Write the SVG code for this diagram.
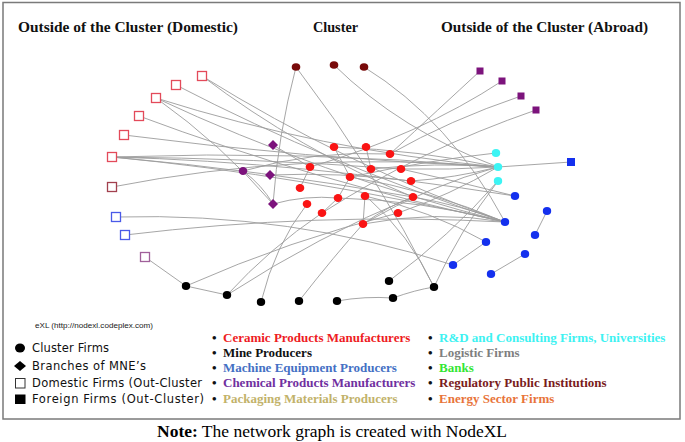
<svg xmlns="http://www.w3.org/2000/svg" width="685" height="442" viewBox="0 0 685 442">
<style>
.e{fill:none;stroke:#9c9c9c;stroke-width:0.9}
.sq{fill:#fff;stroke-width:1.3}
.red{fill:#fa1414}
.dred{fill:#780a0a}
.pur{fill:#7c137c}
.cy{fill:#3cf4f4}
.bl{fill:#1430ee}
.blk{fill:#000}
.h{font-family:"Liberation Serif",serif;font-weight:bold;font-size:15.5px;fill:#111}
.lg{font-family:"DejaVu Sans",sans-serif;font-size:11.5px;fill:#111}
.li{font-family:"Liberation Serif",serif;font-weight:bold;font-size:13px}
.bu{font-family:"Liberation Serif",serif;font-weight:bold;font-size:13px;fill:#111}
</style>
<rect x="0" y="0" width="685" height="442" fill="#fff"/>
<rect x="3" y="2.5" width="677" height="416.5" fill="none" stroke="#7a7a7a" stroke-width="1.5"/>
<g id="headings">
<text class="h" x="18" y="32" textLength="220" lengthAdjust="spacingAndGlyphs">Outside of the Cluster (Domestic)</text>
<text class="h" x="313" y="32" textLength="45" lengthAdjust="spacingAndGlyphs">Cluster</text>
<text class="h" x="441" y="32" textLength="207" lengthAdjust="spacingAndGlyphs">Outside of the Cluster (Abroad)</text>
</g>
<g id="connectors">
<path class="e" d="M202,76 Q345,165 505,222"/>
<path class="e" d="M202,76 Q300,150 413,197"/>
<path class="e" d="M176,85 Q330,165 505,222"/>
<path class="e" d="M156,98 Q320,150 498,167"/>
<path class="e" d="M156,98 Q320,175 505,222"/>
<path class="e" d="M156,98 Q222,145 273,204"/>
<path class="e" d="M139,116 Q310,180 505,222"/>
<path class="e" d="M124,135 Q300,158 498,167"/>
<path class="e" d="M112,157 Q300,150 498,167"/>
<path class="e" d="M112,157 Q300,175 505,222"/>
<path class="e" d="M112,157 Q260,170 413,197"/>
<path class="e" d="M112,157 Q300,162 515,196"/>
<path class="e" d="M112,157 Q250,158 401,169"/>
<path class="e" d="M112,187 Q300,150 498,167"/>
<path class="e" d="M116,217 Q290,212 453,265"/>
<path class="e" d="M125,235 Q315,212 505,222"/>
<path class="e" d="M145,257 L186,286"/>
<path class="e" d="M186,286 L227,295"/>
<path class="e" d="M186,286 Q290,240 398,213"/>
<path class="e" d="M227,295 Q320,235 413,197"/>
<path class="e" d="M227,295 Q270,248 322,213"/>
<path class="e" d="M261,302 Q275,245 307,204"/>
<path class="e" d="M299,301 Q335,255 363,224"/>
<path class="e" d="M337,301 Q365,296 393,298"/>
<path class="e" d="M393,298 Q415,290 434,287"/>
<path class="e" d="M389,281 Q450,236 498,181"/>
<path class="e" d="M434,287 Q460,230 498,181"/>
<path class="e" d="M434,287 Q410,235 366,196"/>
<path class="e" d="M296,67 Q375,170 434,287"/>
<path class="e" d="M334,147 L350,177"/>
<path class="e" d="M366,147 L371,169"/>
<path class="e" d="M310,167 L300,188"/>
<path class="e" d="M350,177 L338,198"/>
<path class="e" d="M322,213 L338,198"/>
<path class="e" d="M365,196 L363,224"/>
<path class="e" d="M363,224 Q390,205 413,197"/>
<path class="e" d="M363,224 Q435,210 505,222"/>
<path class="e" d="M363,224 Q430,185 498,167"/>
<path class="e" d="M310,167 Q420,135 502,81"/>
<path class="e" d="M334,147 Q420,150 498,167"/>
<path class="e" d="M350,177 Q430,190 505,222"/>
<path class="e" d="M371,169 Q435,162 498,167"/>
<path class="e" d="M401,169 Q450,170 498,167"/>
<path class="e" d="M411,181 Q455,178 498,167"/>
<path class="e" d="M413,197 Q460,205 505,222"/>
<path class="e" d="M398,213 Q450,195 498,167"/>
<path class="e" d="M338,198 Q420,200 505,222"/>
<path class="e" d="M365,196 Q430,210 486,242"/>
<path class="e" d="M390,154 Q440,108 480,71"/>
<path class="e" d="M390,154 Q450,120 521,96"/>
<path class="e" d="M322,213 Q420,150 536,110"/>
<path class="e" d="M401,169 Q460,182 515,196"/>
<path class="e" d="M273,145 L310,167"/>
<path class="e" d="M270,175 Q340,172 411,181"/>
<path class="e" d="M273,204 Q278,135 296,67"/>
<path class="e" d="M273,204 Q305,195 338,198"/>
<path class="e" d="M243,171 Q262,185 273,204"/>
<path class="e" d="M243,171 Q315,150 390,154"/>
<path class="e" d="M334,65 Q400,130 498,167"/>
<path class="e" d="M364,67 Q450,120 505,222"/>
<path class="e" d="M571,162 L498,167"/>
<path class="e" d="M496,153 Q430,160 350,177"/>
<path class="e" d="M547,211 L535,235"/>
<path class="e" d="M525,254 L491,274"/>
<path class="e" d="M486,242 L453,265"/>
</g>
<g id="d1"><rect class="sq" x="197.5" y="71.5" width="9" height="9" stroke="#e34a5a"/></g>
<g id="d2"><rect class="sq" x="171.5" y="80.5" width="9" height="9" stroke="#e34a5a"/></g>
<g id="d3"><rect class="sq" x="151.5" y="93.5" width="9" height="9" stroke="#e34a5a"/></g>
<g id="d4"><rect class="sq" x="134.5" y="111.5" width="9" height="9" stroke="#e34a5a"/></g>
<g id="d5"><rect class="sq" x="119.5" y="130.5" width="9" height="9" stroke="#e34a5a"/></g>
<g id="d6"><rect class="sq" x="107.5" y="152.5" width="9" height="9" stroke="#e34a5a"/></g>
<g id="d7"><rect class="sq" x="107.5" y="182.5" width="9" height="9" stroke="#a2404e"/></g>
<g id="d8"><rect class="sq" x="111.5" y="212.5" width="9" height="9" stroke="#4a5ae8"/></g>
<g id="d9"><rect class="sq" x="120.5" y="230.5" width="9" height="9" stroke="#4a5ae8"/></g>
<g id="d10"><rect class="sq" x="140.5" y="252.5" width="9" height="9" stroke="#a0609a"/></g>
<g id="r1"><ellipse class="dred" cx="296" cy="67" rx="4.3" ry="3.8"/></g>
<g id="r2"><ellipse class="dred" cx="334" cy="65" rx="4.3" ry="3.8"/></g>
<g id="r3"><ellipse class="dred" cx="364" cy="67" rx="4.3" ry="3.8"/></g>
<g id="m1"><path class="pur" d="M273,140 L278,145 L273,150 L268,145 Z"/></g>
<g id="m2"><path class="pur" d="M270,170 L275,175 L270,180 L265,175 Z"/></g>
<g id="m3"><path class="pur" d="M273,199 L278,204 L273,209 L268,204 Z"/></g>
<g id="p1"><ellipse class="pur" cx="243" cy="171" rx="4.3" ry="4"/></g>
<g id="c1"><ellipse class="red" cx="334" cy="147" rx="4.3" ry="4"/></g>
<g id="c2"><ellipse class="red" cx="366" cy="147" rx="4.3" ry="4"/></g>
<g id="c3"><ellipse class="red" cx="390" cy="154" rx="4.3" ry="4"/></g>
<g id="c4"><ellipse class="red" cx="310" cy="167" rx="4.3" ry="4"/></g>
<g id="c5"><ellipse class="red" cx="371" cy="169" rx="4.3" ry="4"/></g>
<g id="c6"><ellipse class="red" cx="401" cy="169" rx="4.3" ry="4"/></g>
<g id="c7"><ellipse class="red" cx="350" cy="177" rx="4.3" ry="4"/></g>
<g id="c8"><ellipse class="red" cx="411" cy="181" rx="4.3" ry="4"/></g>
<g id="c9"><ellipse class="red" cx="300" cy="188" rx="4.3" ry="4"/></g>
<g id="c10"><ellipse class="red" cx="338" cy="198" rx="4.3" ry="4"/></g>
<g id="c11"><ellipse class="red" cx="365" cy="196" rx="4.3" ry="4"/></g>
<g id="c12"><ellipse class="red" cx="413" cy="197" rx="4.3" ry="4"/></g>
<g id="c13"><ellipse class="red" cx="307" cy="204" rx="4.3" ry="4"/></g>
<g id="c14"><ellipse class="red" cx="322" cy="213" rx="4.3" ry="4"/></g>
<g id="c15"><ellipse class="red" cx="398" cy="213" rx="4.3" ry="4"/></g>
<g id="c16"><ellipse class="red" cx="363" cy="224" rx="4.3" ry="4"/></g>
<g id="k1"><ellipse class="blk" cx="186" cy="286" rx="4.2" ry="4"/></g>
<g id="k2"><ellipse class="blk" cx="227" cy="295" rx="4.2" ry="4"/></g>
<g id="k3"><ellipse class="blk" cx="261" cy="302" rx="4.2" ry="4"/></g>
<g id="k4"><ellipse class="blk" cx="299" cy="301" rx="4.2" ry="4"/></g>
<g id="k5"><ellipse class="blk" cx="337" cy="301" rx="4.2" ry="4"/></g>
<g id="k6"><ellipse class="blk" cx="393" cy="298" rx="4.2" ry="4"/></g>
<g id="k7"><ellipse class="blk" cx="434" cy="287" rx="4.2" ry="4"/></g>
<g id="k8"><ellipse class="blk" cx="389" cy="281" rx="4.2" ry="4"/></g>
<g id="y1"><ellipse class="cy" cx="496" cy="153" rx="4.2" ry="4"/></g>
<g id="y2"><ellipse class="cy" cx="498" cy="167" rx="4.2" ry="4"/></g>
<g id="y3"><ellipse class="cy" cx="498" cy="181" rx="4.2" ry="4"/></g>
<g id="b1"><ellipse class="bl" cx="515" cy="196" rx="4.2" ry="4"/></g>
<g id="b2"><ellipse class="bl" cx="505" cy="222" rx="4.2" ry="4"/></g>
<g id="b3"><ellipse class="bl" cx="547" cy="211" rx="4.2" ry="4"/></g>
<g id="b4"><ellipse class="bl" cx="535" cy="235" rx="4.2" ry="4"/></g>
<g id="b5"><ellipse class="bl" cx="486" cy="242" rx="4.2" ry="4"/></g>
<g id="b6"><ellipse class="bl" cx="525" cy="254" rx="4.2" ry="4"/></g>
<g id="b7"><ellipse class="bl" cx="453" cy="265" rx="4.2" ry="4"/></g>
<g id="b8"><ellipse class="bl" cx="491" cy="274" rx="4.2" ry="4"/></g>
<g id="f1"><rect class="pur" x="476.5" y="67.5" width="7" height="7"/></g>
<g id="f2"><rect class="pur" x="498.5" y="77.5" width="7" height="7"/></g>
<g id="f3"><rect class="pur" x="517.5" y="92.5" width="7" height="7"/></g>
<g id="f4"><rect class="pur" x="532.5" y="106.5" width="7" height="7"/></g>
<g id="f5"><rect class="bl" x="567" y="158" width="8" height="8"/></g>
<g id="legend-shapes">
<text x="35" y="328" font-family="Liberation Sans, sans-serif" font-size="7.5" fill="#222" textLength="118" lengthAdjust="spacingAndGlyphs">eXL (http://nodexl.codeplex.com)</text>
<ellipse cx="20" cy="348" rx="5" ry="4.5" fill="#000"/>
<text class="lg" x="32" y="352" textLength="77" lengthAdjust="spacing">Cluster Firms</text>
<path d="M20,361 L26,366 L20,371 L14,366 Z" fill="#000"/>
<text class="lg" x="32" y="370" textLength="114" lengthAdjust="spacing">Branches of MNE’s</text>
<rect x="15.5" y="378.5" width="9.5" height="9.5" fill="#fff" stroke="#333" stroke-width="1"/>
<text class="lg" x="32" y="387" textLength="170" lengthAdjust="spacing">Domestic Firms (Out-Cluster</text>
<rect x="15" y="394.5" width="10.5" height="9.5" fill="#000"/>
<text class="lg" x="32" y="403" textLength="172" lengthAdjust="spacing">Foreign Firms (Out-Cluster)</text>
</g>
<g id="legend-sectors">
<text class="bu" x="212" y="342">•</text><text class="li" x="223" y="342" fill="#ee1c24">Ceramic Products Manufacturers</text>
<text class="bu" x="212" y="357">•</text><text class="li" x="223" y="357" fill="#111">Mine Producers</text>
<text class="bu" x="212" y="372">•</text><text class="li" x="223" y="372" fill="#4470c4">Machine Equipment Producers</text>
<text class="bu" x="212" y="387">•</text><text class="li" x="223" y="387" fill="#7030a0">Chemical Products Manufacturers</text>
<text class="bu" x="212" y="403">•</text><text class="li" x="223" y="403" fill="#c2b26a">Packaging Materials Producers</text>
<text class="bu" x="428" y="342">•</text><text class="li" x="439" y="342" fill="#3ef2f2">R&amp;D and Consulting Firms, Universities</text>
<text class="bu" x="428" y="357">•</text><text class="li" x="439" y="357" fill="#7f7f7f">Logistic Firms</text>
<text class="bu" x="428" y="372">•</text><text class="li" x="439" y="372" fill="#33e633">Banks</text>
<text class="bu" x="428" y="387">•</text><text class="li" x="439" y="387" fill="#7a1c1c">Regulatory Public Institutions</text>
<text class="bu" x="428" y="403">•</text><text class="li" x="439" y="403" fill="#e8743a">Energy Sector Firms</text>
</g>
<g id="note">
<text x="157" y="437" font-family="Liberation Serif, serif" font-size="17.5" fill="#000"><tspan font-weight="bold">Note:</tspan> The network graph is created with NodeXL</text>
</g>
</svg>
